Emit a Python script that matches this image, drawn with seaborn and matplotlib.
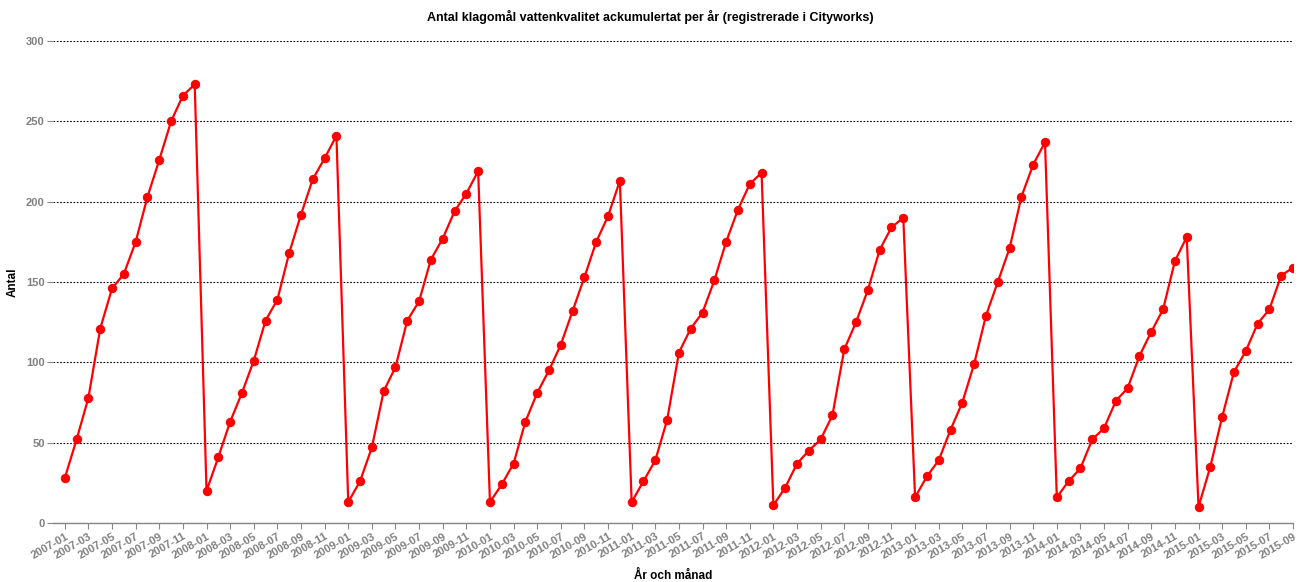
import matplotlib
matplotlib.use("Agg")
import matplotlib.pyplot as plt
import seaborn as sns
import pandas as pd
import numpy as np

# Cumulative complaints per month, per year
y2007 = [28, 52, 78, 121, 146, 155, 175, 203, 226, 250, 266, 273]
y2008 = [20, 41, 63, 81, 101, 126, 139, 168, 192, 214, 227, 241]
y2009 = [13, 26, 47, 82, 97, 126, 138, 164, 177, 194, 205, 219]
y2010 = [13, 24, 37, 63, 81, 95, 111, 132, 153, 175, 191, 213]
y2011 = [13, 26, 39, 64, 106, 121, 131, 151, 175, 195, 211, 218]
y2012 = [11, 22, 37, 45, 52, 67, 108, 125, 145, 170, 184, 190]
y2013 = [16, 29, 39, 58, 75, 99, 129, 150, 171, 203, 223, 237]
y2014 = [16, 26, 34, 52, 59, 76, 84, 104, 119, 133, 163, 178]
y2015 = [10, 35, 66, 94, 107, 124, 133, 154, 159]

values = y2007 + y2008 + y2009 + y2010 + y2011 + y2012 + y2013 + y2014 + y2015
months = pd.period_range("2007-01", periods=len(values), freq="M").strftime("%Y-%m").tolist()

df = pd.DataFrame({"idx": np.arange(len(values)), "month": months, "antal": values})

sns.set_theme(style="white")
plt.rcParams["font.family"] = ["Liberation Sans", "DejaVu Sans"]

fig = plt.figure(figsize=(13.01, 5.82), dpi=100)
ax = fig.add_axes([53/1301, 1 - 523/582, (1293 - 53)/1301, (523 - 41)/582])

sns.lineplot(data=df, x="idx", y="antal", ax=ax, color="#ff0000", linewidth=1.6,
             marker="o", markersize=6, markeredgecolor="#ff0000")

ax.set_xlim(-1.0, len(values) - 1)
ax.set_ylim(0, 300)
ax.set_yticks([0, 50, 100, 150, 200, 250, 300])
ax.set_xticks(df["idx"][::2])
ax.set_xticklabels(df["month"][::2], rotation=30, ha="right", rotation_mode="anchor")

for lbl in ax.get_xticklabels() + ax.get_yticklabels():
    lbl.set_fontweight("bold")
    lbl.set_color("#808080")
    lbl.set_fontsize(8)

ax.yaxis.grid(True, color="black", linestyle=(0, (1.5, 1.5)), linewidth=0.8)
ax.xaxis.grid(False)
ax.set_axisbelow(True)

for s in ["top", "right", "left"]:
    ax.spines[s].set_visible(False)
ax.spines["bottom"].set_color("#888888")
ax.spines["bottom"].set_linewidth(1.0)

ax.tick_params(axis="x", bottom=True, length=4, width=0.8, color="#888888", pad=2)
ax.tick_params(axis="y", left=True, length=4, width=0.8, color="#888888", pad=2)

ax.set_xlabel("År och månad", fontsize=8.5, fontweight="bold", color="black", labelpad=7)
ax.set_ylabel("Antal", fontsize=8.5, fontweight="bold", color="black", labelpad=5)
fig.text(0.5, 1 - 17/582, "Antal klagomål vattenkvalitet ackumulertat per år (registrerade i Cityworks)",
         ha="center", va="center", fontsize=9, fontweight="bold", color="black")

fig.savefig("out.png", dpi=100)
